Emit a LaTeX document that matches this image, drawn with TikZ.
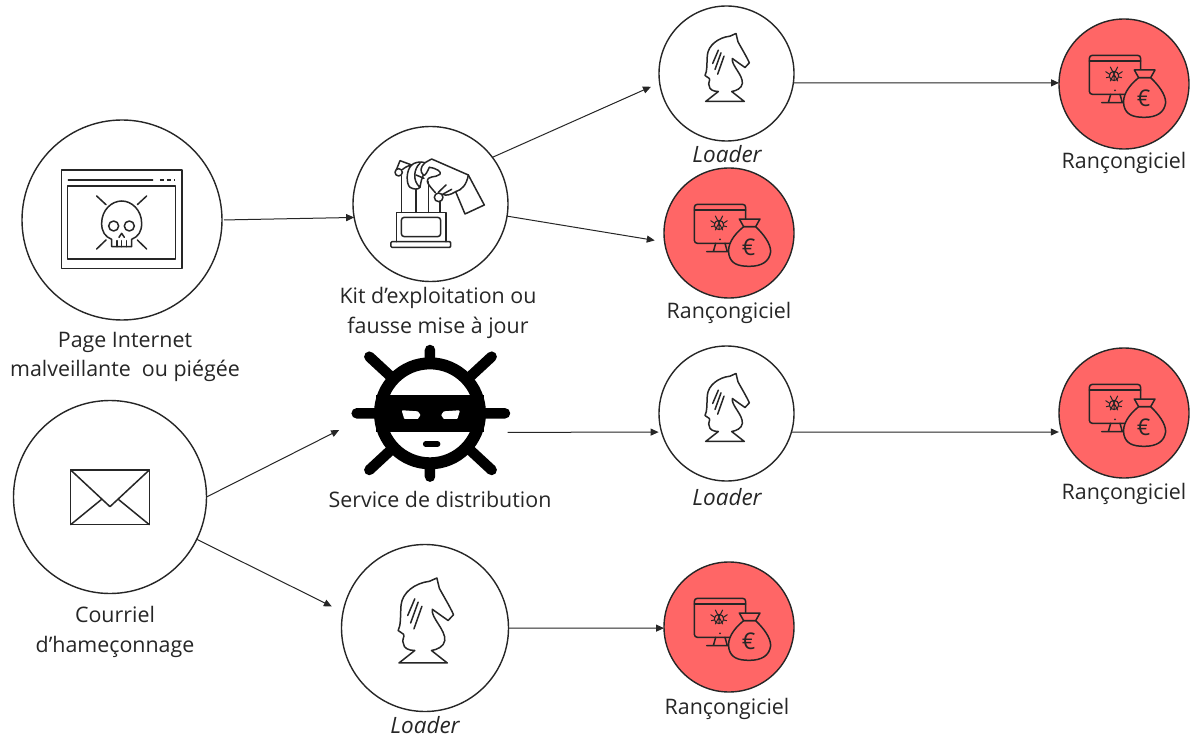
\documentclass[tikz,border=0pt]{standalone}
\usepackage{fontspec}
\setmainfont{Open Sans}
\usetikzlibrary{arrows.meta}
\definecolor{ransomred}{HTML}{FF6666}
\definecolor{ink}{HTML}{262626}
\tikzset{
  x=1pt,y=-1pt,
  disc/.style={circle,draw=ink,line width=1.4pt,fill=white,inner sep=0pt,outer sep=0pt,minimum size=#1},
  reddisc/.style={disc=130pt,fill=ransomred},
  nodisc/.style={circle,inner sep=0pt,outer sep=0pt,minimum size=#1},
  lbl/.style={font=\fontsize{21.4}{29.5}\selectfont,align=center,inner sep=0pt,text=black!85},
  ldr/.style={lbl,font=\fontsize{22.5}{29}\selectfont\itshape},
  link/.style={line width=1pt,draw=ink,-{Triangle[length=8pt,width=7pt]}},
  icon/.style={line width=1.5pt,draw=ink,line join=round,line cap=round},
  pics/knight/.style={code={
    \begin{scope}[scale=.3333,shift={(-229.5,-220)}]
      \draw[icon] (167,304) -- (205,274) .. controls (190,274) and (178,268) .. (178,258)
        .. controls (172,250) and (182,240) .. (178,235) -- (165,226) .. controls (172,212) and (170,195) .. (172,165)
        .. controls (175,135) and (205,112) .. (240,108) -- (258,100) -- (264,125)
        .. controls (275,145) and (290,170) .. (298,188) -- (285,202) -- (268,190) -- (247,175)
        .. controls (243,195) and (280,225) .. (277,250) .. controls (275,265) and (258,272) .. (245,274) -- (283,304) -- cycle;
      \draw[icon] (205,150) -- (188,190) (213,158) -- (195,208) (222,168) -- (203,222);
    \end{scope}
  }},
  pics/ransom/.style={code={
    \begin{scope}[scale=.3333,shift={(-237,-219)}]
      \draw[icon,rounded corners=3pt] (133,133) rectangle (287,250);
      \draw[icon] (133,150) -- (287,150);
      \draw[icon] (197,250) -- (190,275) (225,250) -- (232,275) (170,275) -- (240,275);
      \fill[ink] (210,238) circle (3);
      % bug
      \draw[icon,line width=1pt] (207,195) circle (14) (207,181) -- (207,209) (196,168) -- (218,210) (218,168) -- (196,210)
        (182,182) -- (194,190) (232,182) -- (220,190) (184,200) -- (194,198) (230,200) -- (220,198);
      % bag
      \draw[icon,fill=ransomred] (281,200) .. controls (250,225) and (230,255) .. (237,285)
        .. controls (243,310) and (262,319) .. (298,319) .. controls (335,319) and (358,305) .. (362,275)
        .. controls (362,250) and (340,222) .. (317,200) -- cycle;
      \draw[icon,fill=ransomred] (268,177) -- (330,177) -- (317,200) -- (281,200) -- cycle;
      \node[inner sep=0pt,text=ink,font=\fontsize{23}{23}\selectfont] at (296,261) {€};
    \end{scope}
  }},
}
\begin{document}
\begin{tikzpicture}
\useasboundingbox (0,0) rectangle (1194,735);
\fill[white] (0,0) rectangle (1194,735);
% discs
\node[disc=200pt] (page) at (122,220) {};
\node[disc=193pt] (mail) at (110,497) {};
\node[disc=155pt] (kit) at (430.5,204) {};
\node[disc=167pt] (ldrc) at (425,628) {};
\node[disc=135pt] (ldra) at (726.5,73.5) {};
\node[disc=135pt] (ldrb) at (726.5,413.5) {};
\node[reddisc] (rana) at (1124,84) {};
\node[reddisc] (ranb) at (729,233) {};
\node[reddisc] (ranc) at (1124,413) {};
\node[reddisc] (rand) at (729,627) {};
\node[nodisc=160pt] (virus) at (430,413) {};
% connectors
\draw[link,shorten <=2pt] (page.0) -- (kit.190);
\draw[link,shorten >=9.5pt] (kit.37) -- (ldra.188);
\draw[link,shorten >=10pt] (kit.-9.5) -- (ranb.188.5);
\draw[link] (ldra.-8) -- (rana.179);
\draw[link,shorten >=13pt] (mail.0) -- (virus.188);
\draw[link,shorten >=12.5pt] (mail.-26) -- (ldrc.169.7);
\draw[link,shorten >=3pt] (virus.-14.7) -- (ldrb.196.8);
\draw[link,shorten >=3pt] (ldrb.-16.8) -- (ranc.197);
\draw[link] (ldrc.0) -- (rand.181.8);
% page icon
\begin{scope}[shift={(0,120)},scale=.3333]
  \draw[icon,line cap=butt] (184,150) rectangle (546,445);
  \draw[icon,line cap=butt] (203,198) rectangle (526,417);
  \draw[icon] (205,180) -- (458,180);
  \draw[icon,line cap=butt,dash pattern=on 4pt off 3pt] (480,180) -- (525,180);
  \draw[icon] (335,380) -- (335,358) .. controls (315,350) and (305,335) .. (305,310)
     .. controls (305,270) and (335,243) .. (365,243) .. controls (395,243) and (425,270) .. (425,310)
     .. controls (425,335) and (415,350) .. (395,358) -- (395,380) -- cycle;
  \draw[icon] (341,318) circle (15) (388,318) circle (15);
  \draw[icon] (357,352) -- (365,340) -- (373,352);
  \draw[icon] (351,362) -- (351,380) (365,362) -- (365,380) (379,362) -- (379,380);
  \draw[icon] (290,228) -- (318,254) (440,228) -- (412,254) (290,387) -- (318,360) (440,387) -- (412,360);
\end{scope}
% kit icon
\begin{scope}[shift={(340,110)},scale=.3333]
  \draw[icon,rounded corners=1pt] (153,395) rectangle (332,412);
  \draw[icon] (170,395) -- (170,307) -- (318,307) -- (318,395);
  \draw[icon,rounded corners=3pt] (184,322) rectangle (302,380);
  \draw[icon] (185,198) -- (185,307) (228,238) -- (228,307) (265,215) -- (265,307) (300,275) -- (300,307);
  \draw[icon] (176,187) circle (11);
  \draw[icon] (296,262) circle (13);
  \draw[icon] (170,177) -- (180,152) -- (215,165)
     .. controls (222,158) and (240,153) .. (255,158) -- (275,147) -- (385,195) -- (433,285) -- (375,312) -- (347,245)
     .. controls (330,255) and (320,258) .. (308,253);
  \draw[icon] (385,195) .. controls (380,225) and (365,240) .. (347,245);
  \draw[icon] (188,178) .. controls (205,165) and (208,168) .. (215,165) .. controls (198,180) and (198,222) .. (210,232)
     .. controls (220,238) and (234,240) .. (240,232);
  \draw[icon] (240,160) .. controls (222,175) and (216,212) .. (240,232)
     .. controls (243,215) and (245,205) .. (250,195);
  \draw[icon] (228,195) -- (252,205);
  \draw[icon] (255,158) .. controls (240,172) and (240,185) .. (250,195)
     .. controls (255,200) and (262,185) .. (268,172);
  \draw[icon] (268,172) .. controls (290,175) and (305,185) .. (300,193)
     .. controls (285,205) and (262,195) .. (262,215) .. controls (265,225) and (275,235) .. (286,248);
  \draw[icon] (295,247) -- (318,225) (308,253) -- (335,238);
\end{scope}
% virus icon
\begin{scope}[shift={(340,335)},scale=.3333]
  \draw[line width=10.5pt,line cap=round,draw=black]
    (270,45) -- (270,425) (50,235) -- (495,235) (88,65) -- (455,405) (455,65) -- (88,405);
  \fill[white] (270,235) circle (150);
  \draw[black,line width=12pt] (270,235) circle (150);
  \fill[black] (108,180) rectangle (432,292);
  \fill[white,draw=white,line width=2pt,line join=round] (189,229) -- (232,232) -- (238,240) -- (232,249) -- (195,249) -- cycle;
  \fill[white,draw=white,line width=2pt,line join=round] (356,229) -- (313,232) -- (307,240) -- (313,249) -- (350,249) -- cycle;
  \draw[black,line width=5.5pt,line cap=round] (257,327) -- (293,327);
\end{scope}
% mail icon
\begin{scope}[shift={(0,390)},scale=.3333]
  \draw[icon] (212,240) rectangle (448,404);
  \draw[icon] (212,240) -- (330,350) -- (448,240);
  \draw[icon] (212,404) -- (305,328) (448,404) -- (355,328);
\end{scope}
\pic at (ldra) {knight};
\pic at (ldrb) {knight};
\pic[scale=1.25] at (ldrc) {knight};
\pic at (rana) {ransom};
\pic at (ranb) {ransom};
\pic at (ranc) {ransom};
\pic at (rand) {ransom};
% labels
\node[lbl] (tpage) at (125,357) {Page Internet\\malveillante\ \ ou piégée};
\node[lbl] (tkit) at (438,313) {Kit d’exploitation ou\\fausse mise à jour};
\node[lbl] (tvirus) at (440,499) {Service de distribution};
\node[lbl] (tmail) at (115,632) {Courriel\\d’hameçonnage};
\node[ldr] (la) at (727,154) {Loader};
\node[ldr] (lb) at (727,497) {Loader};
\node[ldr,anchor=base] (lc) at (425,733) {Loader};
\node[lbl] (ra) at (1124,163) {Rançongiciel};
\node[lbl] (rb) at (729,313) {Rançongiciel};
\node[lbl] (rc) at (1124,494) {Rançongiciel};
\node[lbl] (rd) at (727,709) {Rançongiciel};
\end{tikzpicture}
\end{document}
